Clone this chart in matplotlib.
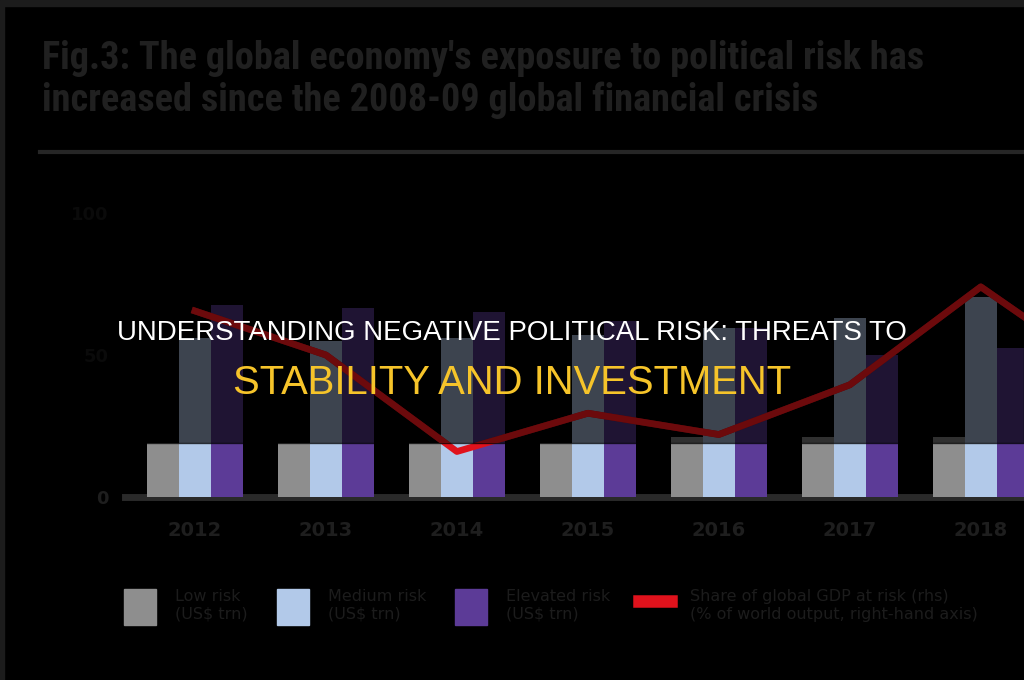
import numpy as np
import matplotlib
matplotlib.use("Agg")
import matplotlib.pyplot as plt
from matplotlib import font_manager
from matplotlib.patches import Patch, Rectangle
from matplotlib.lines import Line2D

# values
years = ["2012", "2013", "2014", "2015", "2016", "2017", "2018"]
low_risk = [19, 19, 19, 19, 21, 21, 21]
medium_risk = [56, 55, 56, 57, 59.5, 63, 70.5]
high_risk = [67.5, 66.5, 65, 62, 59.5, 50, 52.5]
share_at_risk = [65.5, 50, 16, 29.5, 22, 39.5, 74, 42]  # last point runs off the right edge

labels = ["Low risk\n(US$ trn)", "Medium risk\n(US$ trn)", "Elevated risk\n(US$ trn)",
          "Share of global GDP at risk (rhs)\n(% of world output, right-hand axis)"]
c_gray = "#8e8e8e"
c_blue = "#b2c9e9"
c_purple = "#5c3b97"
c_red = "#e0121c"
dark_txt = "#1e1e1e"

# a narrow face for the dark chart title, if one is around
have = {f.name for f in font_manager.fontManager.ttflist}
narrow = next((n for n in ["Roboto Condensed", "Liberation Sans Narrow", "Open Sans Condensed"]
               if n in have), None)

fig = plt.figure(figsize=(10.24, 6.8), dpi=100, facecolor="black")
W, H = 1024, 680
rect = [125 / W, (H - 497) / H, (W - 125) / W, 284 / H]
veil_y = (H - 442.5) / H

ax = fig.add_axes(rect)
ax.set_facecolor("black")

x = np.arange(len(years))
w = 0.245
ax.bar(x - w, low_risk, w, color=c_gray, zorder=2)
ax.bar(x, medium_risk, w, color=c_blue, zorder=2)
ax.bar(x + w, high_risk, w, color=c_purple, zorder=2)
xl = np.arange(len(share_at_risk))
ax.plot(xl, share_at_risk, color=c_red, lw=4.8, zorder=3)

ax.set_xlim(-0.534, 6.33)
ax.set_ylim(0, 100)
ax.set_xticks(x)
ax.set_xticklabels(years, fontsize=14, fontweight="bold", color=dark_txt)
ax.set_yticks([0, 50, 100])
ax.set_yticklabels(["0", "50", "100"], fontsize=13, fontweight="bold", color=dark_txt)
ax.tick_params(axis="x", length=0, pad=17)
ax.tick_params(axis="y", length=0, pad=12)
for s in ["top", "right", "left"]:
    ax.spines[s].set_visible(False)
ax.spines["bottom"].set_color("#2a2a2a")
ax.spines["bottom"].set_linewidth(5)
ax.spines["bottom"].set_zorder(1)

# legend
handles = [Patch(color=c_gray), Patch(color=c_blue), Patch(color=c_purple),
           Line2D([], [], color=c_red, lw=9)]
fig.legend(handles, labels, loc="center left", bbox_to_anchor=(110 / W, (H - 607) / H),
           ncol=4, frameon=False, fontsize=11.5, labelcolor="#1c1c1c",
           handlelength=2.0, handleheight=3.0, handletextpad=1.2, columnspacing=1.8)

# chart title (dark, almost invisible on black)
title = ("Fig.3: The global economy's exposure to political risk has\n"
         "increased since the 2008-09 global financial crisis")
if narrow:
    fig.text(42 / W, 1 - 40 / H, title, ha="left", va="top", fontsize=27.5, fontweight="bold",
             color="#202020", linespacing=1.15, family=narrow, zorder=10)
else:
    fig.text(42 / W, 1 - 40 / H, title, ha="left", va="top", fontsize=19, fontweight="bold",
             color="#202020", linespacing=1.45, zorder=10)
fig.add_artist(Line2D([40 / W, 1], [1 - 152 / H, 1 - 152 / H], color="#262626", lw=3,
                      transform=fig.transFigure, zorder=10))

# frame strips
fig.add_artist(Rectangle((0, 1 - 6 / H), 1, 6 / H, transform=fig.transFigure,
                         color="#1c1c1c", zorder=10))
fig.add_artist(Rectangle((0, 0), 4 / W, 1, transform=fig.transFigure,
                         color="#1c1c1c", zorder=10))

# dark veil over the upper part
veil = Rectangle((0, veil_y), 1, 1, transform=fig.transFigure,
                 color="black", alpha=0.66, zorder=5)
fig.add_artist(veil)

# the red line shows through the veil a bit stronger: redraw its veiled part
ax2 = fig.add_axes(rect, zorder=6)
ax2.set_xlim(ax.get_xlim())
ax2.set_ylim(ax.get_ylim())
ax2.axis("off")
clip = Rectangle((0, veil_y), 1, 1, transform=fig.transFigure, visible=False)
fig.add_artist(clip)
ln, = ax2.plot(xl, share_at_risk, color="#6c0a0c", lw=4.8)
ln.set_clip_path(clip)

# headline overlay
fig.text(0.5, 1 - 333 / H, "UNDERSTANDING NEGATIVE POLITICAL RISK: THREATS TO",
         ha="center", va="center", fontsize=19.9, color="white", family="Liberation Sans", zorder=12)
fig.text(0.5, 1 - 383 / H, "STABILITY AND INVESTMENT",
         ha="center", va="center", fontsize=28.8, color="#f6c42a", family="Liberation Sans", zorder=12)

fig.savefig("out.png", dpi=100, facecolor="black")
